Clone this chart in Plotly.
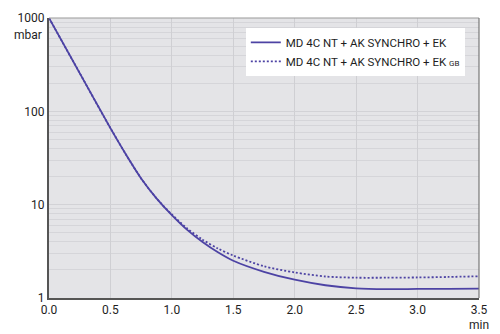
import plotly.graph_objects as go

time_min = [0.0, 0.25, 0.5, 0.625, 0.75, 0.875, 1.0, 1.125, 1.25, 1.375, 1.5, 1.75, 2.0, 2.25, 2.5, 2.75, 3.0, 3.25, 3.5]
p_ek = [1000, 257, 66, 34.7, 19.1, 11.7, 7.73, 5.37, 3.98, 3.09, 2.51, 1.91, 1.57, 1.37, 1.27, 1.245, 1.25, 1.253, 1.26]
p_ek_gb = [1000, 257, 66, 34.7, 19.1, 11.7, 7.85, 5.56, 4.22, 3.39, 2.85, 2.19, 1.88, 1.70, 1.65, 1.65, 1.66, 1.68, 1.71]

series_names = ["MD 4C NT + AK SYNCHRO + EK",
                "MD 4C NT + AK SYNCHRO + EK <span style='font-size:8px'>GB</span>"]
x_ticks = [0.0, 0.5, 1.0, 1.5, 2.0, 2.5, 3.0, 3.5]
y_ticks = [1, 10, 100, 1000]

color = "#4d43a4"
font = "Roboto"
text_color = "#1e1e1e"

fig = go.Figure()
fig.add_trace(go.Scatter(x=time_min, y=p_ek, mode="lines", name=series_names[0],
                         line=dict(color=color, width=1.8, shape="spline", smoothing=0.8)))
fig.add_trace(go.Scatter(x=time_min, y=p_ek_gb, mode="lines", name=series_names[1],
                         line=dict(color=color, width=1.8, dash="2px,2px", shape="spline", smoothing=0.8)))

minor_vals = [m * 10**d for d in range(0, 3) for m in range(2, 10)]

fig.update_layout(
    width=500, height=334,
    margin=dict(l=49, r=21, t=18, b=36),
    paper_bgcolor="white", plot_bgcolor="#e4e4e7",
    font=dict(family=font, size=12, color=text_color),
    showlegend=True,
    legend=dict(x=0.967, y=0.965, xanchor="right", yanchor="top",
                bgcolor="white", borderwidth=0, font=dict(size=11.5, color=text_color),
                tracegroupgap=0, itemwidth=30),
    xaxis=dict(range=[0, 3.5], tickvals=x_ticks, ticktext=[f"{v:.1f}" for v in x_ticks],
               showgrid=True, gridcolor="#cfcfd3", gridwidth=1, zeroline=False,
               showline=True, linecolor="#555", linewidth=2,
               ticks="", tickfont=dict(size=12)),
    yaxis=dict(type="log", range=[0, 3], tickvals=y_ticks, ticktext=[str(v) for v in y_ticks],
               showgrid=True, gridcolor="#d2d2d6", gridwidth=1, zeroline=False,
               showline=True, linecolor="#555", linewidth=2,
               ticks="", tickfont=dict(size=12),
               minor=dict(tickvals=minor_vals, showgrid=True, gridcolor="#d5d5d9", gridwidth=1)),
)

# top and right frame
fig.add_shape(type="line", xref="paper", yref="paper", x0=0, x1=1, y0=1, y1=1,
              line=dict(color="#999", width=1))
fig.add_shape(type="line", xref="paper", yref="paper", x0=1, x1=1, y0=0, y1=1,
              line=dict(color="#777", width=1.2))

fig.add_annotation(text="mbar", xref="paper", yref="paper", x=0, y=1, xanchor="right",
                   yanchor="top", xshift=-5, yshift=-8, showarrow=False,
                   font=dict(size=12, color=text_color))
fig.add_annotation(text="min", xref="paper", yref="paper", x=1, y=0, xanchor="center",
                   yanchor="top", yshift=-18, showarrow=False,
                   font=dict(size=12, color=text_color))

fig.write_html("out.html", config={"displayModeBar": False},
               post_script="document.body.style.margin='0';")
